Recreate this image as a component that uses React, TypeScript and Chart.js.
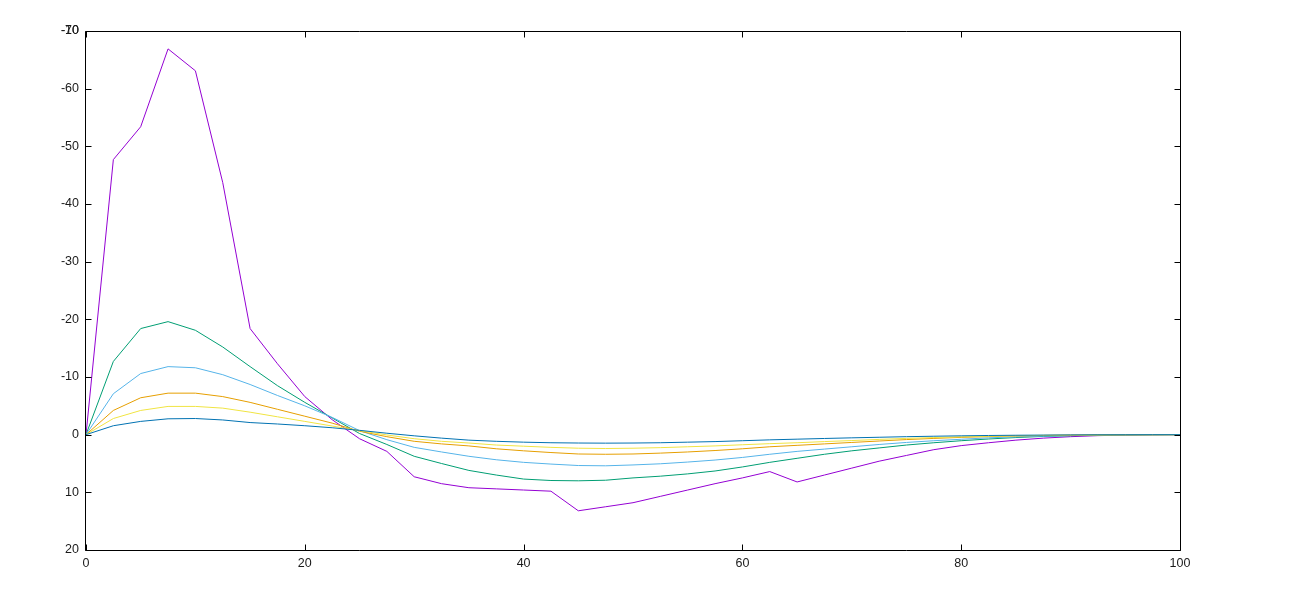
import React, { useEffect, useRef } from "react";
import { Chart, registerables } from "chart.js";

Chart.register(...registerables);

const xValues: number[] = [
  0, 2.5, 5, 7.5, 10, 12.5, 15, 17.5, 20, 22.5, 25, 27.5, 30, 32.5, 35, 37.5, 40,
  42.5, 45, 47.5, 50, 52.5, 55, 57.5, 60, 62.5, 65, 67.5, 70, 72.5, 75, 77.5, 80,
  82.5, 85, 87.5, 90, 92.5, 95, 97.5, 100,
];

const seriesPurple: number[] = [
  0, -47.7, -53.4, -66.9, -63.1, -43.7, -18.4, -12.3, -6.6, -2.6, 0.7, 2.9, 7.3,
  8.5, 9.2, 9.4, 9.6, 9.8, 13.2, 12.5, 11.8, 10.7, 9.6, 8.5, 7.5, 6.4, 8.2, 7.0,
  5.8, 4.6, 3.6, 2.6, 1.9, 1.4, 0.95, 0.6, 0.35, 0.17, 0.07, 0.02, 0,
];

const seriesGreen: number[] = [
  0, -12.7, -18.4, -19.6, -18.1, -15.2, -11.8, -8.5, -5.6, -2.9, -0.2, 1.7, 3.75,
  5.0, 6.2, 7.0, 7.7, 7.95, 8.0, 7.9, 7.5, 7.2, 6.8, 6.3, 5.6, 4.8, 4.1, 3.4, 2.8,
  2.3, 1.8, 1.4, 1.05, 0.75, 0.5, 0.3, 0.18, 0.1, 0.05, 0.02, 0,
];

const seriesLightBlue: number[] = [
  0, -7.1, -10.6, -11.8, -11.6, -10.4, -8.7, -6.8, -5.0, -3.0, -0.7, 0.87, 2.2,
  3.0, 3.75, 4.35, 4.8, 5.1, 5.35, 5.4, 5.25, 5.05, 4.75, 4.4, 3.95, 3.4, 2.9,
  2.5, 2.1, 1.7, 1.35, 1.05, 0.8, 0.55, 0.38, 0.25, 0.15, 0.08, 0.04, 0.01, 0,
];

const seriesOrange: number[] = [
  0, -4.2, -6.4, -7.2, -7.2, -6.6, -5.6, -4.4, -3.2, -2.0, -0.6, 0.35, 1.15, 1.6,
  1.95, 2.45, 2.8, 3.1, 3.35, 3.4, 3.35, 3.2, 3.0, 2.75, 2.45, 2.1, 1.85, 1.6,
  1.35, 1.1, 0.85, 0.65, 0.47, 0.33, 0.22, 0.14, 0.08, 0.04, 0.02, 0.01, 0,
];

const seriesYellow: number[] = [
  0, -2.8, -4.2, -4.9, -4.9, -4.6, -3.9, -3.1, -2.3, -1.5, -0.7, 0.05, 0.7, 1.15,
  1.45, 1.8, 2.0, 2.2, 2.35, 2.4, 2.35, 2.25, 2.1, 1.95, 1.75, 1.56, 1.4, 1.2,
  1.02, 0.82, 0.65, 0.5, 0.37, 0.27, 0.19, 0.12, 0.07, 0.04, 0.02, 0.01, 0,
];

const seriesDarkBlue: number[] = [
  0, -1.55, -2.3, -2.75, -2.8, -2.55, -2.1, -1.85, -1.55, -1.2, -0.75, -0.25, 0.2,
  0.6, 0.95, 1.15, 1.3, 1.4, 1.45, 1.47, 1.45, 1.4, 1.3, 1.2, 1.05, 0.9, 0.78,
  0.66, 0.55, 0.45, 0.35, 0.27, 0.2, 0.14, 0.1, 0.07, 0.04, 0.02, 0.01, 0, 0,
];

const seriesColors: string[] = [
  "#9400d3",
  "#009e73",
  "#56b4e9",
  "#e69f00",
  "#f0e442",
  "#0072b2",
];

const xTicks: number[] = [0, 20, 40, 60, 80, 100];
const yTicks: number[] = [-70, -60, -50, -40, -30, -20, -10, 0, 10, 20];
// an extra label drawn over the top one, as in the reference
const yExtraTick = { value: -70, label: "-10" };

const FONT = { family: "'Liberation Sans', Arial, sans-serif", size: 12.5 };
const TEXT_COLOR = "#1a1a1a";

const frameAndTicks = {
  id: "frameAndTicks",
  afterDatasetsDraw(chart: any) {
    const { ctx, chartArea, scales } = chart;
    const { left, right, top, bottom } = chartArea;
    const L = Math.round(left) - 0.5;
    const R = Math.round(right) + 0.5;
    const T = Math.round(top) + 0.5;
    const B = Math.round(bottom) + 0.5;
    ctx.save();
    ctx.strokeStyle = "#000";
    ctx.lineWidth = 1;
    ctx.beginPath();
    ctx.rect(L, T, R - L, B - T);
    ctx.stroke();
    const tl = 6;
    ctx.beginPath();
    for (const v of yTicks) {
      const y = Math.round(scales.y.getPixelForValue(v)) + 0.5;
      ctx.moveTo(L, y);
      ctx.lineTo(L + tl, y);
      ctx.moveTo(R, y);
      ctx.lineTo(R - tl, y);
    }
    for (const v of xTicks) {
      const x = Math.round(scales.x.getPixelForValue(v)) + 0.5;
      ctx.moveTo(x, B);
      ctx.lineTo(x, B - tl);
      ctx.moveTo(x, T);
      ctx.lineTo(x, T + tl);
    }
    ctx.stroke();
    ctx.restore();
  },
};

export default function App() {
  const canvasRef = useRef<HTMLCanvasElement | null>(null);

  useEffect(() => {
    const canvas = canvasRef.current;
    if (!canvas) return;
    const all = [
      seriesPurple,
      seriesGreen,
      seriesLightBlue,
      seriesOrange,
      seriesYellow,
      seriesDarkBlue,
    ];
    const datasets = all.map((s, i) => ({
      label: `series ${i + 1}`,
      data: xValues.map((x, j) => ({ x, y: s[j] })),
      borderColor: seriesColors[i],
      backgroundColor: seriesColors[i],
      borderWidth: 1,
      pointRadius: 0,
      tension: 0,
      fill: false,
      order: all.length - i,
    }));

    const chart = new Chart(canvas, {
      type: "line",
      data: { datasets },
      plugins: [frameAndTicks],
      options: {
        animation: false,
        responsive: true,
        maintainAspectRatio: false,
        layout: { padding: { left: 0, right: 123, top: 31, bottom: 0 } },
        plugins: {
          legend: { display: false },
          tooltip: { enabled: false },
        },
        scales: {
          x: {
            type: "linear",
            min: 0,
            max: 100,
            grid: { display: false, drawTicks: false },
            border: { display: false },
            afterBuildTicks: (axis: any) => {
              axis.ticks = xTicks.map((v) => ({ value: v }));
            },
            afterFit: (s: any) => {
              s.height = 42;
            },
            ticks: {
              autoSkip: false,
              maxRotation: 0,
              padding: 6,
              color: TEXT_COLOR,
              font: FONT,
              callback: (v: any) => String(v),
            },
          },
          y: {
            type: "linear",
            reverse: true,
            min: -70,
            max: 20,
            grid: { display: false, drawTicks: false },
            border: { display: false },
            afterBuildTicks: (axis: any) => {
              axis.ticks = [
                ...yTicks.map((v) => ({ value: v })),
                { value: yExtraTick.value },
              ];
            },
            afterFit: (s: any) => {
              s.width = 86;
            },
            ticks: {
              autoSkip: false,
              padding: 7,
              color: TEXT_COLOR,
              font: FONT,
              callback: (v: any, index: number) =>
                index === yTicks.length ? yExtraTick.label : String(v),
            },
          },
        },
      },
    });
    return () => chart.destroy();
  }, []);

  return (
    <div
      style={{
        position: "fixed",
        left: 0,
        top: 0,
        width: 1303,
        height: 592,
        background: "#fff",
      }}
    >
      <canvas ref={canvasRef} />
    </div>
  );
}
